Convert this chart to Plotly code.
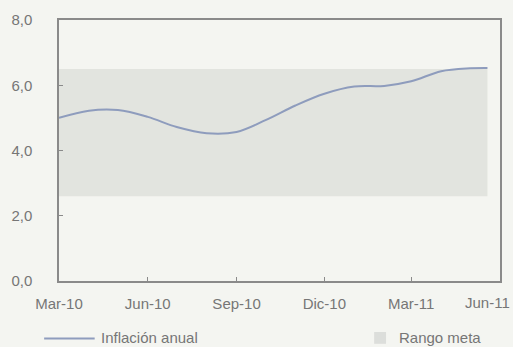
import plotly.graph_objects as go

# Inflación anual
fechas = ["2010-03-01", "2010-04-01", "2010-05-01", "2010-06-01", "2010-07-01",
          "2010-08-01", "2010-09-01", "2010-10-01", "2010-11-01", "2010-12-01",
          "2011-01-01", "2011-02-01", "2011-03-01", "2011-04-01", "2011-05-01",
          "2011-05-19"]
inflacion = [5.00, 5.22, 5.24, 5.03, 4.72, 4.53, 4.57, 4.93, 5.38, 5.74,
             5.96, 5.98, 6.12, 6.43, 6.52, 6.53]

# Rango meta
meta_inicio = "2010-03-01"
meta_fin = "2011-05-19"
meta_min = 2.6
meta_max = 6.5

tick_vals = ["2010-03-01", "2010-06-01", "2010-09-01", "2010-12-01", "2011-03-01", "2011-06-01"]
tick_text = ["Mar-10", "Jun-10", "Sep-10", "Dic-10", "Mar-11", ""]
ultimo_label = "Jun-11"
y_vals = [0, 2, 4, 6, 8]
y_text = ["0,0", "2,0", "4,0", "6,0", "8,0"]

FONT = "Liberation Sans, Arial, sans-serif"
FS = 15
TXT = "#767676"
BG = "#f4f5f1"
BAND = "#e2e4df"
LINE = "#8e9cbd"
FRAME = "#8a8a8a"

fig = go.Figure()
fig.add_trace(go.Scatter(
    x=[meta_inicio, meta_fin, meta_fin, meta_inicio, meta_inicio],
    y=[meta_min, meta_min, meta_max, meta_max, meta_min],
    fill="toself", fillcolor=BAND, line=dict(width=0), mode="lines",
    name="Rango meta", showlegend=False, hoverinfo="skip"))
fig.add_trace(go.Scatter(
    x=fechas, y=inflacion, mode="lines",
    line=dict(color=LINE, width=2, shape="spline", smoothing=1.0),
    name="Inflación anual", showlegend=False))

fig.update_layout(
    width=513, height=347,
    margin=dict(l=57, r=11, t=15, b=66),
    paper_bgcolor=BG, plot_bgcolor=BG,
    font=dict(family=FONT, size=FS, color=TXT),
    showlegend=False,
)
fig.update_xaxes(
    type="date", range=["2010-03-01", "2011-06-01"],
    tickvals=tick_vals, ticktext=tick_text,
    ticks="inside", ticklen=4, tickcolor=FRAME, tickwidth=1,
    showgrid=False, zeroline=False,
    showline=True, linecolor=FRAME, linewidth=1.5, mirror=True,
    ticklabelstandoff=8,
    tickfont=dict(family=FONT, size=FS, color=TXT),
)
fig.update_yaxes(
    range=[0, 8], tickvals=y_vals, ticktext=y_text,
    ticks="inside", ticklen=4, tickcolor=FRAME, tickwidth=1,
    showgrid=False, zeroline=False,
    showline=True, linecolor=FRAME, linewidth=1.5, mirror=True,
    ticklabelstandoff=22,
    tickfont=dict(family=FONT, size=FS, color=TXT),
)

# last x label, kept inside the window
fig.add_annotation(x=tick_vals[-1], y=0, xref="x", yref="y", text=ultimo_label,
                   showarrow=False, xanchor="right", yanchor="top",
                   xshift=12, yshift=-11, font=dict(family=FONT, size=FS, color=TXT))

# legend
fig.add_shape(type="line", xref="paper", yref="paper",
              x0=(42 - 57) / 445, x1=(93 - 57) / 445, y0=-58.5 / 266, y1=-58.5 / 266,
              line=dict(color=LINE, width=2))
fig.add_annotation(xref="paper", yref="paper", x=(97 - 57) / 445, y=-58 / 266,
                   text="Inflación anual", showarrow=False, xanchor="left", yanchor="middle",
                   font=dict(family=FONT, size=FS, color=TXT))
fig.add_shape(type="rect", xref="paper", yref="paper",
              x0=(375 - 57) / 445, x1=(387 - 57) / 445, y0=-52 / 266, y1=-64 / 266,
              fillcolor="#dcdedb", line=dict(width=0))
fig.add_annotation(xref="paper", yref="paper", x=(398 - 57) / 445, y=-58 / 266,
                   text="Rango meta", showarrow=False, xanchor="left", yanchor="middle",
                   font=dict(family=FONT, size=FS, color=TXT))

fig.write_html("out.html")
